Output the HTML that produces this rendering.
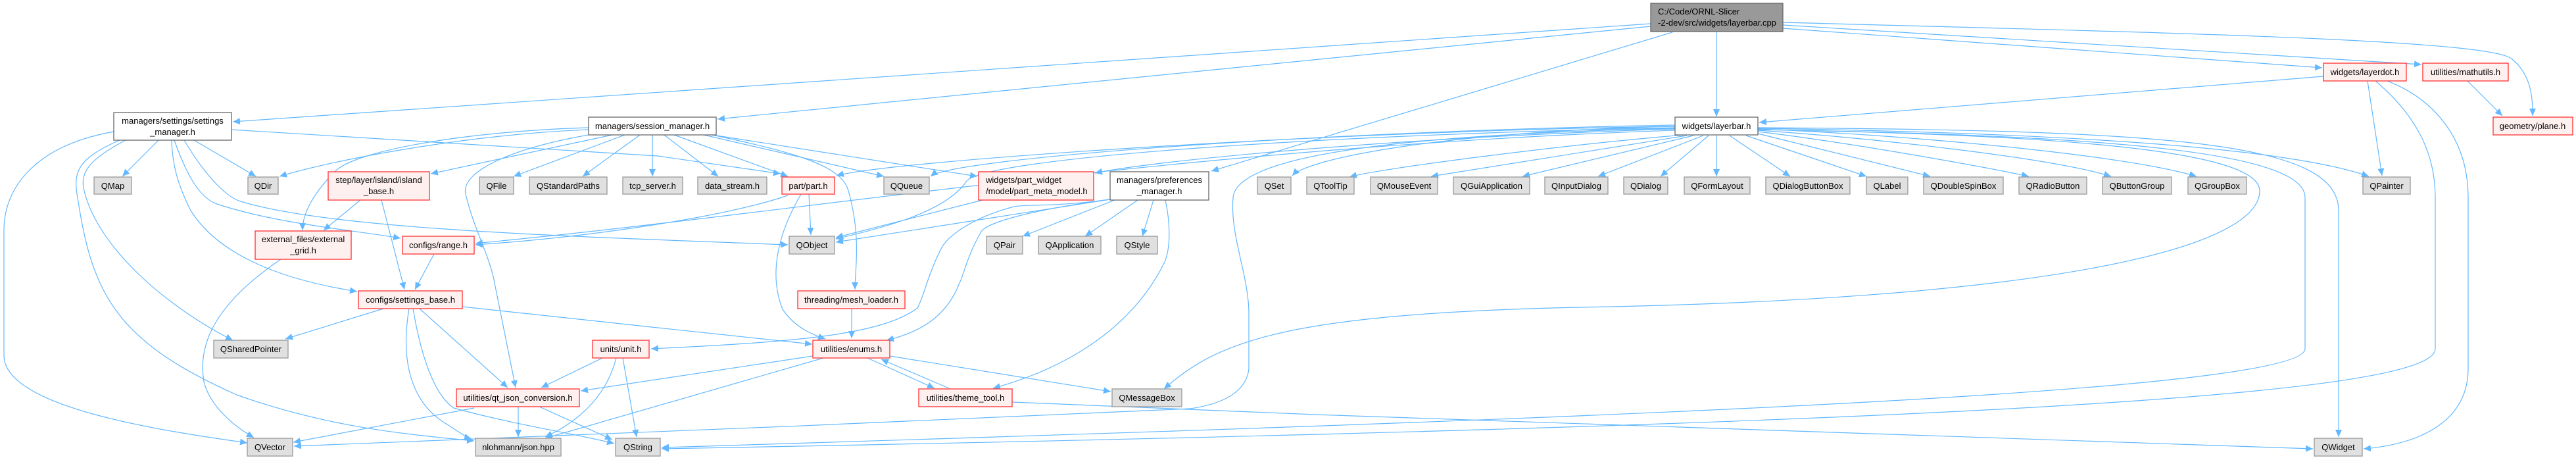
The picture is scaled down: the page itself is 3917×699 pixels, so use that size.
<!DOCTYPE html>
<html><head><meta charset="utf-8"><style>
html,body{margin:0;padding:0;background:#fff;}
svg{display:block;}
text{font-family:"Liberation Sans",Arial,sans-serif;font-size:13px;fill:#000;}
.e{fill:none;stroke:#63b8ff;stroke-width:1.2;marker-end:url(#a);}
.g{fill:#e0e0e0;stroke:#999;stroke-width:1.3;}
.r{fill:#fff0f0;stroke:#ff3030;stroke-width:1.3;}
.w{fill:#fff;stroke:#666;stroke-width:1.3;}
.k{fill:#999;stroke:#666;stroke-width:1.3;}
</style></head><body>
<svg width="3917" height="699" viewBox="0 0 3917 699" xmlns="http://www.w3.org/2000/svg">
<defs><marker id="a" markerUnits="userSpaceOnUse" markerWidth="12" markerHeight="10" refX="11" refY="5" orient="auto"><path d="M0,0 L11,5 L0,10 z" fill="#63b8ff"/></marker></defs>

<!-- edges -->
<g>
<!-- root -->
<path class="e" d="M2510,36 L354,185"/>
<path class="e" d="M2510,40 L1091,181"/>
<path class="e" d="M2610,48 L2610,177"/>
<path class="e" d="M2543,49 L1842,260"/>
<path class="e" d="M2711,43 L3531,103"/>
<path class="e" d="M2711,38 L3682,98"/>
<path class="e" d="M2711,34 C3300,50 3790,60 3820,90 C3850,115 3851,150 3851,176"/>
<!-- layerdot/mathutils -->
<path class="e" d="M3533,116 L2675,186"/>
<path class="e" d="M3600,123 L3622,267"/>
<path class="e" d="M3612,123 C3680,180 3703,240 3703,300 L3703,530 C3703,600 3000,645 1006,682"/>
<path class="e" d="M3630,123 C3700,150 3753,210 3753,300 L3753,560 C3753,640 3680,675 3594,682"/>
<path class="e" d="M3752,123 L3805,176"/>
<!-- layerbar -->
<path class="e" d="M2560,205 C2400,218 2100,255 2052,269"/>
<path class="e" d="M2565,206 L2176,268"/>
<path class="e" d="M2575,206 L2315,268"/>
<path class="e" d="M2590,206 L2430,268"/>
<path class="e" d="M2598,206 L2525,268"/>
<path class="e" d="M2610,206 L2610,268"/>
<path class="e" d="M2630,206 L2722,268"/>
<path class="e" d="M2655,206 L2838,268"/>
<path class="e" d="M2673,203 L2935,268"/>
<path class="e" d="M2673,200 C2800,215 3000,250 3085,268"/>
<path class="e" d="M2673,198 C2850,210 3120,240 3210,268"/>
<path class="e" d="M2673,196 C2900,205 3230,235 3340,268"/>
<path class="e" d="M2673,195 C3000,200 3450,215 3602,268"/>
<path class="e" d="M2673,194 C3300,198 3556,215 3556,320 L3556,664"/>
<path class="e" d="M2673,197 C3150,205 3505,225 3505,300 L3505,530 C3505,600 2300,640 1006,680"/>
<path class="e" d="M2673,197 C3150,205 3436,230 3436,290 C3436,380 3100,455 2400,467 C1950,477 1850,520 1770,591"/>
<path class="e" d="M2547,195 C2100,205 1880,240 1875,300 C1870,360 1900,420 1899,480 L1899,560 C1895,600 1850,615 1810,621 C1400,640 800,665 447,678"/>
<path class="e" d="M2547,192 C2200,200 1990,240 1965,267"/>
<path class="e" d="M2547,190 C2000,200 1450,240 1415,268"/>
<path class="e" d="M2547,192 C2000,200 1350,245 1272,267"/>
<path class="e" d="M2547,196 C2100,210 1750,245 1665,263"/>
<path class="e" d="M2547,194 C2000,205 1500,240 1470,275 C1440,320 1350,345 1271,363"/>
<path class="e" d="M2547,198 C1900,220 1350,300 1000,340 C850,358 760,366 723,370"/>
<!-- session -->
<path class="e" d="M895,197 C700,205 500,245 425,268"/>
<path class="e" d="M931,205 L655,264"/>
<path class="e" d="M895,194 C700,200 540,230 510,260 C470,300 460,330 460,350"/>
<path class="e" d="M950,205 L781,268"/>
<path class="e" d="M973,205 L886,268"/>
<path class="e" d="M992,205 L992,268"/>
<path class="e" d="M1010,205 L1092,268"/>
<path class="e" d="M1025,205 L1198,268"/>
<path class="e" d="M1070,205 L1344,268"/>
<path class="e" d="M1077,204 L1486,268"/>
<path class="e" d="M1083,205 C1200,230 1280,250 1290,290 C1310,360 1300,410 1300,440"/>
<path class="e" d="M895,205 C780,225 700,260 708,295 C720,345 740,380 750,420 L784,589"/>
<!-- settings manager -->
<path class="e" d="M241,213 L186,268"/>
<path class="e" d="M295,213 L389,268"/>
<path class="e" d="M265,213 C280,255 300,300 330,310 C420,340 540,350 609,362"/>
<path class="e" d="M261,213 C262,250 270,280 290,320 C340,400 460,430 543,443"/>
<path class="e" d="M191,213 C140,240 120,260 128,290 C150,380 260,470 354,517"/>
<path class="e" d="M182,213 C120,240 110,260 118,300 C140,450 180,520 360,600 C500,650 620,660 721,670"/>
<path class="e" d="M173,200 C60,220 6,280 6,350 L6,540 C6,620 250,655 376,673"/>
<path class="e" d="M352,197 L1000,237 L1187,264"/>
<path class="e" d="M280,213 C320,280 350,300 363,305 C500,350 900,360 1198,372"/>
<!-- other -->
<path class="e" d="M548,304 L492,350"/>
<path class="e" d="M580,304 L615,440"/>
<path class="e" d="M427,394 C330,460 300,520 310,580 C320,620 360,650 386,665"/>
<path class="e" d="M660,386 L631,440"/>
<path class="e" d="M583,469 L434,515"/>
<path class="e" d="M638,469 L772,589"/>
<path class="e" d="M622,469 C610,540 620,610 680,645 C700,658 710,665 717,667"/>
<path class="e" d="M628,469 C640,540 660,600 690,620 C780,645 880,660 934,674"/>
<path class="e" d="M703,466 L1000,498 L1235,523"/>
<path class="e" d="M916,544 L823,589"/>
<path class="e" d="M937,544 C920,610 870,645 829,664"/>
<path class="e" d="M947,544 L968,664"/>
<path class="e" d="M721,620 L446,672"/>
<path class="e" d="M788,618 L788,664"/>
<path class="e" d="M820,618 L931,668"/>
<path class="e" d="M1236,541 L883,594"/>
<path class="e" d="M1252,544 L829,666"/>
<path class="e" d="M1353,541 L1689,595"/>
<path class="e" d="M1319,544 L1421,590"/>
<path class="e" d="M1443,590 L1340,546"/>
<path class="e" d="M1539,611 L2000,630 L3517,682"/>
<path class="e" d="M1295,469 L1295,514"/>
<path class="e" d="M1230,295 L1233,357"/>
<path class="e" d="M1218,295 C1180,360 1170,420 1190,470 C1210,500 1240,510 1255,515"/>
<path class="e" d="M1198,297 C1100,330 900,360 723,372"/>
<path class="e" d="M1494,304 L1271,361"/>
<path class="e" d="M1688,303 L1271,368"/>
<path class="e" d="M1695,304 L1555,359"/>
<path class="e" d="M1730,304 L1650,359"/>
<path class="e" d="M1754,304 L1737,359"/>
<path class="e" d="M1772,304 C1780,340 1780,380 1770,400 C1720,500 1620,560 1510,590"/>
<path class="e" d="M1688,303 C1560,320 1495,340 1491,354 C1470,390 1465,420 1459,430 C1440,480 1400,505 1348,517"/>
<path class="e" d="M1688,303 C1600,315 1560,310 1542,314 C1480,330 1440,358 1430,380 C1410,420 1405,450 1395,468 C1340,510 1200,520 990,530"/>
</g>

<!-- nodes -->
<g>
<rect class="k" x="2510" y="5" width="201" height="43"/>
<text x="2521" y="22">C:/Code/ORNL-Slicer</text><text x="2521" y="39">-2-dev/src/widgets/layerbar.cpp</text>

<rect class="w" x="173" y="171" width="179" height="42"/>
<text x="262.5" y="188" text-anchor="middle">managers/settings/settings</text><text x="262.5" y="205" text-anchor="middle">_manager.h</text>
<rect class="w" x="895" y="178" width="194" height="27"/><text x="992" y="196" text-anchor="middle">managers/session_manager.h</text>
<rect class="w" x="2547" y="178" width="126" height="27"/><text x="2610" y="196" text-anchor="middle">widgets/layerbar.h</text>
<rect class="w" x="1688" y="261" width="150" height="43"/>
<text x="1763" y="278" text-anchor="middle">managers/preferences</text><text x="1763" y="295" text-anchor="middle">_manager.h</text>

<rect class="r" x="3533" y="96" width="126" height="27"/><text x="3596" y="114" text-anchor="middle">widgets/layerdot.h</text>
<rect class="r" x="3684" y="96" width="130" height="27"/><text x="3749" y="114" text-anchor="middle">utilities/mathutils.h</text>
<rect class="r" x="3791" y="178" width="121" height="27"/><text x="3851" y="196" text-anchor="middle">geometry/plane.h</text>
<rect class="r" x="499" y="261" width="154" height="43"/>
<text x="576" y="278" text-anchor="middle">step/layer/island/island</text><text x="576" y="295" text-anchor="middle">_base.h</text>
<rect class="r" x="1189" y="269" width="80" height="26"/><text x="1229" y="287" text-anchor="middle">part/part.h</text>
<rect class="r" x="1488" y="261" width="175" height="43"/>
<text x="1499" y="278">widgets/part_widget</text><text x="1499" y="295">/model/part_meta_model.h</text>
<rect class="r" x="388" y="351" width="146" height="43"/>
<text x="461" y="368" text-anchor="middle">external_files/external</text><text x="461" y="385" text-anchor="middle">_grid.h</text>
<rect class="r" x="612" y="359" width="109" height="27"/><text x="666.5" y="377" text-anchor="middle">configs/range.h</text>
<rect class="r" x="545" y="442" width="158" height="27"/><text x="624" y="460" text-anchor="middle">configs/settings_base.h</text>
<rect class="r" x="1213" y="442" width="163" height="27"/><text x="1294.5" y="460" text-anchor="middle">threading/mesh_loader.h</text>
<rect class="r" x="901" y="517" width="86" height="27"/><text x="944" y="535" text-anchor="middle">units/unit.h</text>
<rect class="r" x="1236" y="517" width="117" height="27"/><text x="1294.5" y="535" text-anchor="middle">utilities/enums.h</text>
<rect class="r" x="694" y="591" width="187" height="27"/><text x="787.5" y="609" text-anchor="middle">utilities/qt_json_conversion.h</text>
<rect class="r" x="1397" y="591" width="142" height="27"/><text x="1468" y="609" text-anchor="middle">utilities/theme_tool.h</text>

<rect class="g" x="143" y="269" width="57" height="26"/><text x="171.5" y="287" text-anchor="middle">QMap</text>
<rect class="g" x="377" y="269" width="46" height="26"/><text x="400" y="287" text-anchor="middle">QDir</text>
<rect class="g" x="729" y="269" width="52" height="26"/><text x="755" y="287" text-anchor="middle">QFile</text>
<rect class="g" x="805" y="269" width="118" height="26"/><text x="864" y="287" text-anchor="middle">QStandardPaths</text>
<rect class="g" x="947" y="269" width="91" height="26"/><text x="992.5" y="287" text-anchor="middle">tcp_server.h</text>
<rect class="g" x="1061" y="269" width="105" height="26"/><text x="1113.5" y="287" text-anchor="middle">data_stream.h</text>
<rect class="g" x="1344" y="269" width="69" height="26"/><text x="1378.5" y="287" text-anchor="middle">QQueue</text>
<rect class="g" x="1912" y="269" width="51" height="26"/><text x="1937.5" y="287" text-anchor="middle">QSet</text>
<rect class="g" x="1987" y="269" width="72" height="26"/><text x="2023" y="287" text-anchor="middle">QToolTip</text>
<rect class="g" x="2084" y="269" width="102" height="26"/><text x="2135" y="287" text-anchor="middle">QMouseEvent</text>
<rect class="g" x="2210" y="269" width="116" height="26"/><text x="2268" y="287" text-anchor="middle">QGuiApplication</text>
<rect class="g" x="2349" y="269" width="96" height="26"/><text x="2397" y="287" text-anchor="middle">QInputDialog</text>
<rect class="g" x="2469" y="269" width="67" height="26"/><text x="2502.5" y="287" text-anchor="middle">QDialog</text>
<rect class="g" x="2561" y="269" width="100" height="26"/><text x="2611" y="287" text-anchor="middle">QFormLayout</text>
<rect class="g" x="2685" y="269" width="128" height="26"/><text x="2749" y="287" text-anchor="middle">QDialogButtonBox</text>
<rect class="g" x="2838" y="269" width="63" height="26"/><text x="2869.5" y="287" text-anchor="middle">QLabel</text>
<rect class="g" x="2925" y="269" width="121" height="26"/><text x="2985.5" y="287" text-anchor="middle">QDoubleSpinBox</text>
<rect class="g" x="3070" y="269" width="103" height="26"/><text x="3121.5" y="287" text-anchor="middle">QRadioButton</text>
<rect class="g" x="3197" y="269" width="105" height="26"/><text x="3249.5" y="287" text-anchor="middle">QButtonGroup</text>
<rect class="g" x="3327" y="269" width="89" height="26"/><text x="3371.5" y="287" text-anchor="middle">QGroupBox</text>
<rect class="g" x="3593" y="269" width="72" height="26"/><text x="3629" y="287" text-anchor="middle">QPainter</text>
<rect class="g" x="1200" y="359" width="69" height="27"/><text x="1234.5" y="377" text-anchor="middle">QObject</text>
<rect class="g" x="1500" y="359" width="55" height="27"/><text x="1527.5" y="377" text-anchor="middle">QPair</text>
<rect class="g" x="1579" y="359" width="95" height="27"/><text x="1626.5" y="377" text-anchor="middle">QApplication</text>
<rect class="g" x="1698" y="359" width="62" height="27"/><text x="1729" y="377" text-anchor="middle">QStyle</text>
<rect class="g" x="325" y="517" width="113" height="27"/><text x="381.5" y="535" text-anchor="middle">QSharedPointer</text>
<rect class="g" x="1691" y="591" width="106" height="27"/><text x="1744" y="609" text-anchor="middle">QMessageBox</text>
<rect class="g" x="376" y="666" width="69" height="27"/><text x="410.5" y="684" text-anchor="middle">QVector</text>
<rect class="g" x="723" y="666" width="130" height="27"/><text x="788" y="684" text-anchor="middle">nlohmann/json.hpp</text>
<rect class="g" x="936" y="666" width="68" height="27"/><text x="970" y="684" text-anchor="middle">QString</text>
<rect class="g" x="3519" y="666" width="73" height="27"/><text x="3555.5" y="684" text-anchor="middle">QWidget</text>
</g>
</svg>
</body></html>
